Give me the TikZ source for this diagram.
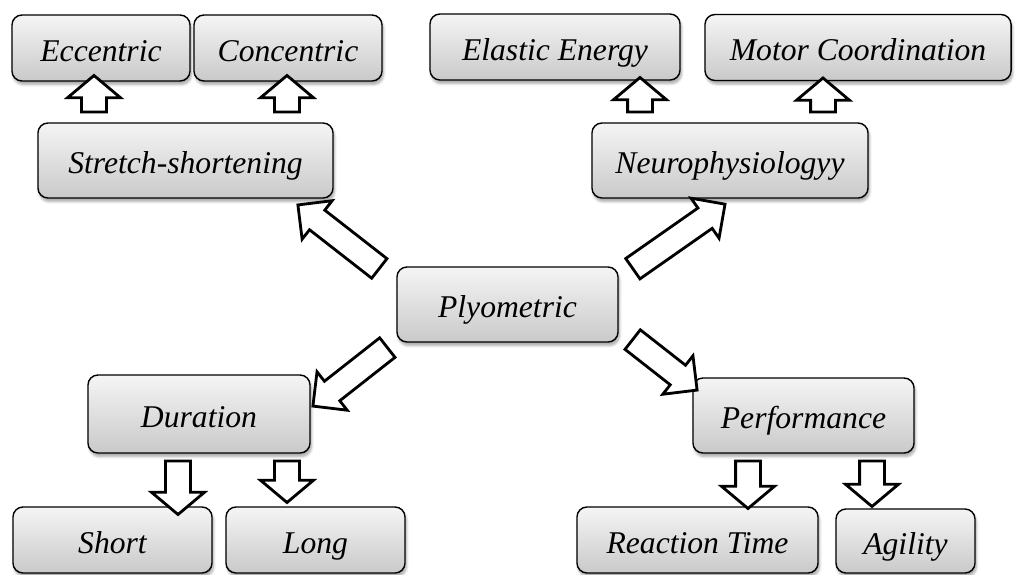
\documentclass[tikz,border=0pt]{standalone}
\usepackage{fontspec}
\setmainfont{Liberation Serif}
\usetikzlibrary{calc, positioning, shapes.arrows, shadows.blur}

\begin{document}
\begin{tikzpicture}[x=0.025cm, y=-0.025cm,
  box/.style={draw, rounded corners=0.25cm, line width=1pt, top color=gray!8, bottom color=gray!42, blur shadow={shadow xshift=1pt, shadow yshift=-2.5pt, shadow opacity=35, shadow blur steps=6}, font=\itshape\fontsize{22.5}{24}\selectfont, inner sep=1pt, text height=19pt, text depth=0.5pt, minimum height=1.65cm},
  arr/.style={single arrow, draw, fill=white, line width=2pt, inner xsep=0pt, inner ysep=0.275cm, single arrow head extend=0.35cm, single arrow tip angle=100, single arrow head indent=0pt},
  diag/.style={single arrow head extend=0.3cm, single arrow tip angle=90},
  blk/.style={to path={let \p1=($(\tikztotarget)-(\tikztostart)$), \n1={atan2(\y1,\x1)}, \n2={veclen(\x1,\y1)} in node[arr, #1, rotate=\n1, minimum height=\n2] at ($(\tikztostart)!.5!(\tikztotarget)$) {}}},
  blk/.default={}]
  \useasboundingbox (0,0) rectangle (1015,574);

  % centre
  \node[box, minimum width=5.525cm, minimum height=1.875cm] (plyo) at (507.5,304.5) {Plyometric};

  % top left
  \node[box, minimum width=7.375cm, minimum height=1.875cm] (stretch) at (185.5,160.5) {Stretch-shortening};
  \node[box, minimum width=4.45cm] (ecc) at (101,48) {Eccentric};
  \node[box, minimum width=4.7cm] (conc) at (288,48) {Concentric};

  % top right
  \node[box, minimum width=6.9cm, minimum height=1.875cm] (neuro) at (730,160.5) {Neurophysiologyy};
  \node[box, minimum width=6.25cm] (elastic) at (555,47) {Elastic Energy};
  \node[box, minimum width=7.65cm] (motor) at (858,47.5) {Motor Coordination};

  % bottom left
  \node[box, minimum width=5.55cm, minimum height=1.95cm] (dur) at (199,414) {Duration};
  \node[box, minimum width=4.975cm] (short) at (112.5,540) {Short};
  \node[box, minimum width=4.475cm] (long) at (315.5,540) {Long};

  % bottom right
  \node[box, minimum width=5.525cm, minimum height=1.875cm] (perf) at (803.5,415.5) {Performance};
  \node[box, minimum width=6.025cm] (react) at (697.5,540) {Reaction Time};
  \node[box, minimum width=3.475cm, minimum height=1.6cm] (agil) at (905.5,541) {Agility};

  % block arrows
  \draw ($(plyo.north west)+(-12,6)$) to[blk=diag] ($(stretch.south east)+(-31,10)$);
  \draw ($(plyo.north east)+(9,6)$) to[blk=diag] ($(neuro.south)+(-10,9)$);
  \draw ($(plyo.south west)+(-4,1)$) to[blk=diag] ($(dur.north east)+(7,28)$);
  \draw ($(plyo.south east)+(9,-7)$) to[blk=diag] ($(perf.north west)+(0,9)$);

  \draw ($(stretch.north)+(-91.5,-5)$) to[blk] ($(ecc.south)+(-7,-1)$);
  \draw ($(stretch.north)+(101.5,-5)$) to[blk] ($(conc.south)+(-1,-1)$);
  \draw ($(neuro.north)+(-90,-5)$) to[blk] ($(elastic.south)+(85,2)$);
  \draw ($(neuro.north)+(93,-5)$) to[blk] ($(motor.south)+(-35,2)$);

  \draw ($(dur.south)+(-21,2)$) to[blk] ($(short.north)+(65.5,3)$);
  \draw ($(dur.south)+(88,2)$) to[blk] ($(long.north)+(-28.5,-9)$);
  \draw ($(perf.south)+(-55.5,2)$) to[blk] ($(react.north)+(50.5,-3)$);
  \draw ($(perf.south)+(68.5,2)$) to[blk] ($(agil.north)+(-33.5,-7)$);
\end{tikzpicture}
\end{document}
